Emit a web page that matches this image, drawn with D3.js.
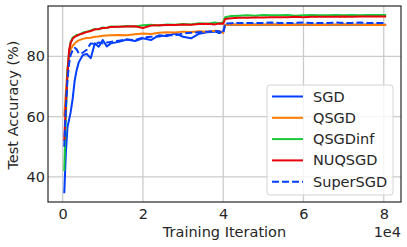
<!DOCTYPE html>
<html>
<head>
<meta charset="utf-8">
<script src="https://cdn.jsdelivr.net/npm/d3@7"></script>
<style>
  body { margin: 0; background: #fff; }
  svg { font-family: "DejaVu Sans", sans-serif; }
</style>
</head>
<body>
<div id="chart"></div>
<script>
// Evaluation points (training iterations)
const iterations = [400, 800, 1200, 1600, 2000, 2500, 3000, 3500, 4000,
    5000, 6000, 7000, 8000, 9000, 10000, 11000,
    12000, 14000, 16000, 18000, 20000, 22000, 24000, 26000, 28000, 30000, 32000, 34000, 36000, 38000,
    39000, 40000, 40500,
    42000, 44000, 46000, 48000, 50000, 52000, 54000, 56000, 58000, 60000,
    62000, 64000, 66000, 68000, 70000, 72000, 74000, 76000, 78000, 80600];

// Test accuracy (%) per method
const sgd = [34.6, 48.0, 56.5, 59.0, 61.5, 66.0, 72.0, 75.5, 78.0,
    80.4, 80.8, 79.4, 84.3, 83.2, 85.4, 83.3,
    84.3, 84.8, 85.6, 85.1, 86.0, 85.4, 87.0, 86.7, 87.6, 86.5, 86.0, 87.5, 88.0, 88.2,
    87.7, 88.4, 90.5,
    90.6, 90.5, 90.5, 90.6, 90.5, 90.6, 90.5, 90.5, 90.6, 90.5,
    90.5, 90.6, 90.5, 90.5, 90.6, 90.5, 90.5, 90.6, 90.5, 90.5];
const qsgd = [60.0, 68.0, 76.0, 80.0, 82.3, 83.5, 84.3, 84.9, 85.3,
    85.8, 86.1, 86.2, 86.5, 86.6, 86.8, 86.9,
    87.0, 87.1, 87.0, 87.3, 87.6, 87.4, 87.8, 88.0, 87.9, 88.2, 88.1, 88.3, 88.2, 88.5,
    88.4, 87.8, 90.4,
    90.5, 90.5, 90.4, 90.5, 90.5, 90.6, 90.5, 90.4, 90.5, 90.5,
    90.5, 90.4, 90.5, 90.5, 90.6, 90.5, 90.5, 90.4, 90.5, 90.4];
const qsgdInf = [42.0, 60.0, 75.0, 81.5, 84.8, 86.3, 86.5, 87.2, 87.0,
    87.9, 88.2, 88.6, 89.1, 89.0, 89.6, 89.4,
    89.9, 89.8, 90.1, 89.9, 90.3, 90.5, 90.2, 90.6, 90.5, 90.7, 90.6, 91.0, 90.8, 91.2,
    90.9, 91.3, 93.0,
    93.4, 93.5, 93.6, 93.5, 93.7, 93.6, 93.6, 93.7, 93.5, 93.6,
    93.7, 93.6, 93.6, 93.7, 93.6, 93.7, 93.6, 93.7, 93.7, 93.7];
const nuqsgd = [52.0, 64.0, 74.0, 82.0, 84.5, 85.8, 86.5, 86.8, 87.2,
    87.6, 88.1, 88.4, 88.9, 89.1, 89.4, 89.5,
    89.7, 89.8, 89.9, 90.0, 89.4, 90.2, 90.3, 90.4, 90.4, 90.6, 90.5, 90.7, 90.8, 90.6,
    90.9, 90.8, 92.4,
    92.6, 92.8, 92.8, 92.9, 92.9, 93.0, 93.0, 93.0, 93.1, 93.0,
    93.1, 93.1, 93.1, 93.1, 93.2, 93.1, 93.2, 93.2, 93.2, 93.2];
const superSgd = [50.0, 63.0, 72.0, 77.5, 80.5, 82.0, 82.8, 82.3, 81.0,
    81.2, 82.2, 84.3, 84.0, 84.6, 84.3, 84.6,
    84.8, 85.2, 85.6, 85.4, 86.2, 86.5, 86.6, 87.1, 87.0, 87.6, 87.8, 88.0, 88.2, 88.4,
    88.3, 87.6, 90.9,
    91.0, 91.1, 91.1, 91.1, 91.1, 91.2, 91.1, 91.1, 91.1, 91.2,
    91.1, 91.1, 91.1, 91.2, 91.1, 91.1, 91.2, 91.1, 91.1, 91.1];

const seriesNames = ["SGD", "QSGD", "QSGDinf", "NUQSGD", "SuperSGD"];
const seriesValues = [sgd, qsgd, qsgdInf, nuqsgd, superSgd];
const seriesColors = ["#023eff", "#ff7c00", "#1ac938", "#e8000b", "#023eff"];
const seriesDashed = [false, false, false, false, true];

const xTicks = [0, 20000, 40000, 60000, 80000];
const yTicks = [40, 60, 80];

// Dimensions
const width = 407;
const height = 247;
const plot = { left: 48, right: 401, top: 6, bottom: 202 };
const fontSize = "14.5px";

const svg = d3.select("#chart").append("svg")
    .attr("width", width)
    .attr("height", height);

// Scales
const x = d3.scaleLinear()
    .domain([-3650, 84300])
    .range([plot.left, plot.right]);

const y = d3.scaleLinear()
    .domain([31.7, 96.7])
    .range([plot.bottom, plot.top]);

// Grid lines
svg.append("g").selectAll("line")
    .data(xTicks)
    .enter().append("line")
    .attr("x1", d => x(d)).attr("x2", d => x(d))
    .attr("y1", plot.top).attr("y2", plot.bottom)
    .attr("stroke", "#cbcbcb")
    .attr("stroke-width", 1.3);

svg.append("g").selectAll("line")
    .data(yTicks)
    .enter().append("line")
    .attr("x1", plot.left).attr("x2", plot.right)
    .attr("y1", d => y(d)).attr("y2", d => y(d))
    .attr("stroke", "#cbcbcb")
    .attr("stroke-width", 1.3);

// Lines
const line = d3.line()
    .x((d, i) => x(iterations[i]))
    .y(d => y(d));

svg.append("clipPath").attr("id", "clip")
    .append("rect")
    .attr("x", plot.left).attr("y", plot.top)
    .attr("width", plot.right - plot.left)
    .attr("height", plot.bottom - plot.top);

seriesValues.forEach((vals, k) => {
    svg.append("path")
        .datum(vals)
        .attr("clip-path", "url(#clip)")
        .attr("fill", "none")
        .attr("stroke", seriesColors[k])
        .attr("stroke-width", 2)
        .attr("stroke-linejoin", "round")
        .attr("stroke-dasharray", seriesDashed[k] ? "7,3" : null)
        .attr("d", line);
});

// Frame
svg.append("rect")
    .attr("x", plot.left).attr("y", plot.top)
    .attr("width", plot.right - plot.left)
    .attr("height", plot.bottom - plot.top)
    .attr("fill", "none")
    .attr("stroke", "#262626")
    .attr("stroke-width", 1.2);

// Axes
const xAxis = svg.append("g")
    .attr("transform", `translate(0,${plot.bottom})`)
    .call(d3.axisBottom(x).tickValues(xTicks).tickSize(0).tickPadding(7)
        .tickFormat(d => d / 10000));
xAxis.select(".domain").remove();
xAxis.selectAll("text")
    .style("font-size", fontSize)
    .attr("fill", "#262626")
    .style("font-family", "DejaVu Sans");

const yAxis = svg.append("g")
    .attr("transform", `translate(${plot.left},0)`)
    .call(d3.axisLeft(y).tickValues(yTicks).tickSize(0).tickPadding(3));
yAxis.select(".domain").remove();
yAxis.selectAll("text")
    .style("font-size", fontSize)
    .attr("fill", "#262626")
    .style("font-family", "DejaVu Sans");

// Axis labels
svg.append("text")
    .attr("text-anchor", "middle")
    .attr("x", (plot.left + plot.right) / 2)
    .attr("y", 237)
    .attr("fill", "#262626")
    .style("font-size", fontSize)
    .text("Training Iteration");

svg.append("text")
    .attr("text-anchor", "end")
    .attr("x", 401)
    .attr("y", 237)
    .attr("fill", "#262626")
    .style("font-size", fontSize)
    .text("1e4");

svg.append("text")
    .attr("text-anchor", "middle")
    .attr("transform", "translate(13,105) rotate(-90)")
    .attr("dy", "0.35em")
    .attr("fill", "#262626")
    .style("font-size", fontSize)
    .text("Test Accuracy (%)");

// Legend
const legend = svg.append("g");
legend.append("rect")
    .attr("x", 267).attr("y", 85)
    .attr("width", 126).attr("height", 110)
    .attr("rx", 3)
    .attr("fill", "#fff")
    .attr("fill-opacity", 0.8)
    .attr("stroke", "#d4d4d4")
    .attr("stroke-width", 1);

const items = legend.selectAll("g.item")
    .data(seriesNames)
    .enter().append("g")
    .attr("class", "item")
    .attr("transform", (d, i) => `translate(0,${96.5 + i * 21.3})`);

items.append("line")
    .attr("x1", 272).attr("x2", 303)
    .attr("stroke", (d, i) => seriesColors[i])
    .attr("stroke-width", 2)
    .attr("stroke-dasharray", (d, i) => seriesDashed[i] ? "7,3" : null);

items.append("text")
    .attr("x", 313)
    .attr("dy", "0.35em")
    .attr("fill", "#262626")
    .style("font-size", fontSize)
    .text(d => d);
</script>
</body>
</html>
